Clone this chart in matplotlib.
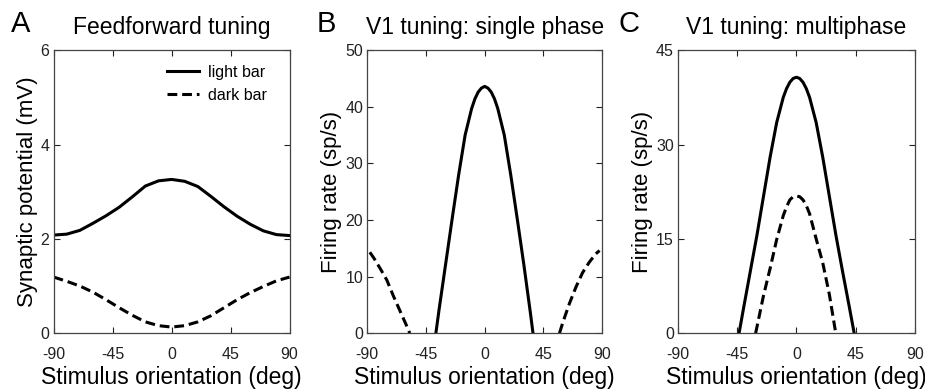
import matplotlib
matplotlib.use("Agg")
import matplotlib.pyplot as plt

plt.rcParams['font.family'] = ['Liberation Sans', 'DejaVu Sans']
plt.rcParams['axes.unicode_minus'] = False

# Panel A: feedforward tuning (mV)
ori_a = [-90, -80, -70, -60, -50, -40, -30, -20, -10, 0, 10, 20, 30, 40, 50, 60, 70, 80, 90]
light_a = [2.08, 2.10, 2.18, 2.33, 2.49, 2.67, 2.89, 3.12, 3.23, 3.26,
           3.22, 3.11, 2.90, 2.68, 2.48, 2.31, 2.17, 2.09, 2.07]
dark_a = [1.19, 1.10, 1.00, 0.87, 0.71, 0.54, 0.38, 0.24, 0.16, 0.13,
          0.16, 0.24, 0.37, 0.54, 0.71, 0.86, 0.99, 1.11, 1.19]

# Panel B: single phase (sp/s)
ori_b_light = [-37.4, -35, -30, -25, -20, -15, -10, -7.5, -5, -2.5, 0,
               2.5, 5, 7.5, 10, 15, 20, 25, 30, 35, 37.0]
light_b = [0, 4.1, 12.1, 20.1, 27.9, 35.0, 39.7, 41.4, 42.6, 43.3, 43.6,
           43.3, 42.6, 41.4, 39.7, 35.0, 27.9, 20.1, 12.1, 3.6, 0]
ori_b_dark_l = [-88, -85, -80, -75, -70, -65, -60, -57.4]
dark_b_l = [14.3, 13.3, 11.4, 9.4, 6.6, 4.0, 1.4, 0]
ori_b_dark_r = [57.3, 60, 65, 70, 75, 80, 85, 88]
dark_b_r = [0, 2.0, 5.3, 8.2, 10.7, 12.5, 14.0, 14.6]

# Panel C: multiphase (sp/s)
ori_c_light = [-43.6, -40, -35, -30, -25, -20, -15, -10, -7.5, -5, -2.5, 0,
               2.5, 5, 7.5, 10, 15, 20, 25, 30, 35, 40, 43.9]
light_c = [0, 4.2, 9.9, 15.6, 21.8, 28.0, 33.5, 37.5, 38.9, 39.9, 40.5, 40.7,
           40.5, 39.9, 38.9, 37.5, 33.5, 28.0, 21.8, 15.6, 9.9, 4.4, 0]
ori_c_dark = [-31, -25, -20, -15, -10, -7.5, -5, -2.5, 0, 2.5, 5, 7.5, 10, 15, 20, 25, 29.9]
dark_c = [0, 6.0, 10.3, 14.9, 18.7, 20.1, 21.2, 21.7, 21.8, 21.7, 21.2, 20.3, 19.0, 15.0, 11.2, 6.2, 0]

xticks = [-90, -45, 0, 45, 90]
lw = 2.2
dash = (3.2, 1.6)

fig = plt.figure(figsize=(9.25, 3.92), dpi=100)
ax_a = fig.add_axes([0.058, 0.150, 0.255, 0.722])
ax_b = fig.add_axes([0.397, 0.150, 0.254, 0.722])
ax_c = fig.add_axes([0.733, 0.150, 0.256, 0.722])

ax_a.plot(ori_a, light_a, color='black', lw=lw, label='light bar')
ax_a.plot(ori_a, dark_a, color='black', lw=lw, dashes=dash, label='dark bar')
ax_a.set_ylim(0, 6)
ax_a.set_yticks([0, 2, 4, 6])
ax_a.set_ylabel('Synaptic potential (mV)', fontsize=16, labelpad=2)
ax_a.set_title('Feedforward tuning', fontsize=16.5, pad=12)
ax_a.legend(loc='upper right', bbox_to_anchor=(0.93, 0.97), frameon=False,
            fontsize=11.5, handlelength=2.0, handletextpad=0.55,
            borderaxespad=0, labelspacing=0.5)

ax_b.plot(ori_b_light, light_b, color='black', lw=lw)
ax_b.plot(ori_b_dark_l, dark_b_l, color='black', lw=lw, dashes=dash)
ax_b.plot(ori_b_dark_r, dark_b_r, color='black', lw=lw, dashes=dash)
ax_b.set_ylim(0, 50)
ax_b.set_yticks([0, 10, 20, 30, 40, 50])
ax_b.set_ylabel('Firing rate (sp/s)', fontsize=16, labelpad=2)
ax_b.set_title('V1 tuning: single phase', fontsize=16.5, pad=12)

ax_c.plot(ori_c_light, light_c, color='black', lw=lw)
ax_c.plot(ori_c_dark, dark_c, color='black', lw=lw, dashes=dash)
ax_c.set_ylim(0, 45)
ax_c.set_yticks([0, 15, 30, 45])
ax_c.set_ylabel('Firing rate (sp/s)', fontsize=16, labelpad=2)
ax_c.set_title('V1 tuning: multiphase', fontsize=16.5, pad=12)

for ax in (ax_a, ax_b, ax_c):
    ax.set_xlim(-90, 90)
    ax.set_xticks(xticks)
    ax.set_xlabel('Stimulus orientation (deg)', fontsize=16.5, labelpad=3)
    ax.tick_params(direction='in', top=True, right=True, length=4, width=0.8,
                   labelsize=11.5, colors='#222222')
    ax.tick_params(axis='x', pad=10)
    ax.tick_params(axis='y', pad=3)
    for s in ax.spines.values():
        s.set_color('#444444')
        s.set_linewidth(0.9)

for letter, x in (('A', 0.012), ('B', 0.342), ('C', 0.669)):
    fig.text(x, 0.918, letter, fontsize=21, ha='left', va='baseline')

fig.savefig('out.png', dpi=100)
